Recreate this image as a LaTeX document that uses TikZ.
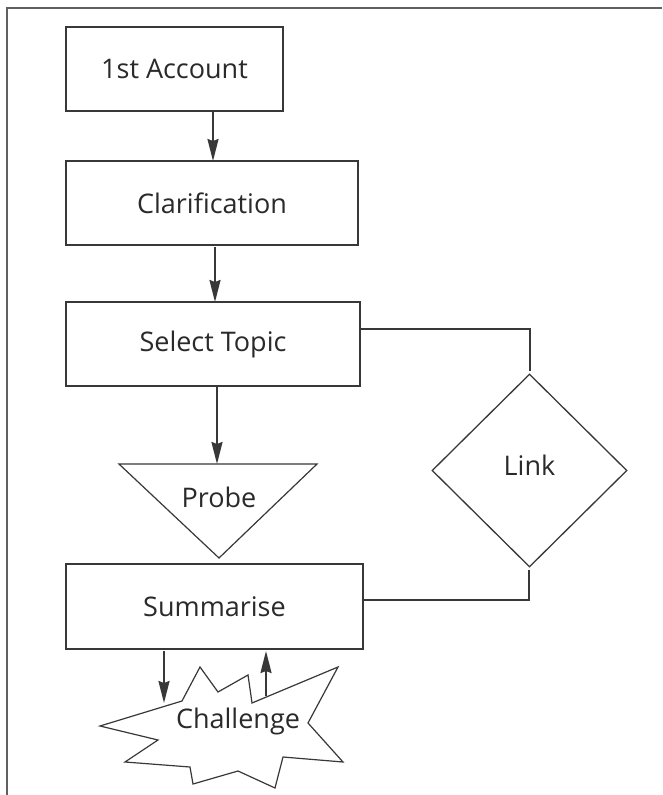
\documentclass[tikz,border=0pt]{standalone}
\usepackage{fontspec}
\setmainfont{Open Sans}
\usetikzlibrary{shapes.geometric,arrows.meta}
\definecolor{ink}{HTML}{383838}
\definecolor{txt}{HTML}{2A2A2A}
\tikzset{
  boxnode/.style={draw=ink,line width=1.4pt,rectangle,inner sep=0pt,font=\fontsize{27}{31}\selectfont,text=txt},
  linknode/.style={draw=ink,line width=1.3pt,diamond,inner sep=0pt,font=\fontsize{27}{31}\selectfont,text=txt},
  labelnode/.style={inner sep=0pt,font=\fontsize{27}{31}\selectfont,text=txt},
  flowarrow/.style={draw=ink,line width=2pt,-{Stealth[length=22pt,width=11pt,inset=2pt]}},
  joinline/.style={draw=ink,line width=1.5pt},
  shapeline/.style={draw=ink,line width=1.2pt,line join=miter},
  frameline/.style={draw=ink!80,line width=1.3pt}
}
\begin{document}
\begin{tikzpicture}[x=1pt,y=-1pt]
\useasboundingbox (0,0) rectangle (662,795);
\fill[white] (0,0) rectangle (662,795);
% frame
\draw[frameline] (662,8) -- (7,8) -- (7,795);
% boxes
\node[boxnode,minimum width=217pt,minimum height=84pt] (acc) at (174.5,69) {1st Account};
\node[boxnode,minimum width=292pt,minimum height=84pt] (clar) at (212,203) {Clarification};
\node[boxnode,minimum width=294pt,minimum height=84pt] (sel) at (213,344) {Select Topic};
\node[boxnode,minimum width=297pt,minimum height=85pt] (summ) at (214.5,606.5) {Summarise};
\node[linknode,minimum width=195pt,minimum height=193pt] (link) at (529.5,470.5) {};
\node[labelnode] (linktxt) at (529.5,465) {Link};
% probe triangle
\coordinate (pA) at (119,464);
\coordinate (pB) at (317,464);
\coordinate (pC) at (219,558);
\draw[shapeline] (pA) -- (pB) -- (pC) -- cycle;
\node[labelnode] (probe) at (219,497) {Probe};
% challenge starburst
\draw[shapeline] (100,726) -- (182,701) -- (200,667) -- (218,692) -- (248,675) -- (252,703)
  -- (338,667) -- (308,723) -- (343,762) -- (283,757) -- (275,788) -- (238,771)
  -- (193,784) -- (190,767) -- (125,762) -- (158,740) -- cycle;
\node[labelnode] (chal) at (238,721) {Challenge};
% connectors
\coordinate (a1s) at (213,112);
\coordinate (a1e) at (213,161);
\coordinate (a2s) at (215,247);
\coordinate (a2e) at (215,302);
\coordinate (a3s) at (217,387);
\coordinate (a3e) at (217,464);
\draw[flowarrow] (a1s) -- (a1e);
\draw[flowarrow] (a2s) -- (a2e);
\draw[flowarrow] (a3s) -- (a3e);
\coordinate (selR) at (360,329);
\coordinate (linkT) at (530,371);
\draw[joinline] (selR) -| (linkT);
\coordinate (linkB) at (529,570);
\coordinate (summR) at (363,600);
\draw[joinline] (linkB) |- (summR);
\coordinate (dn1) at (164,651);
\coordinate (dn2) at (164,703);
\draw[flowarrow] (dn1) -- (dn2);
\coordinate (up1) at (266,696);
\coordinate (up2) at (266,651);
\draw[flowarrow] (up1) -- (up2);
\end{tikzpicture}
\end{document}
